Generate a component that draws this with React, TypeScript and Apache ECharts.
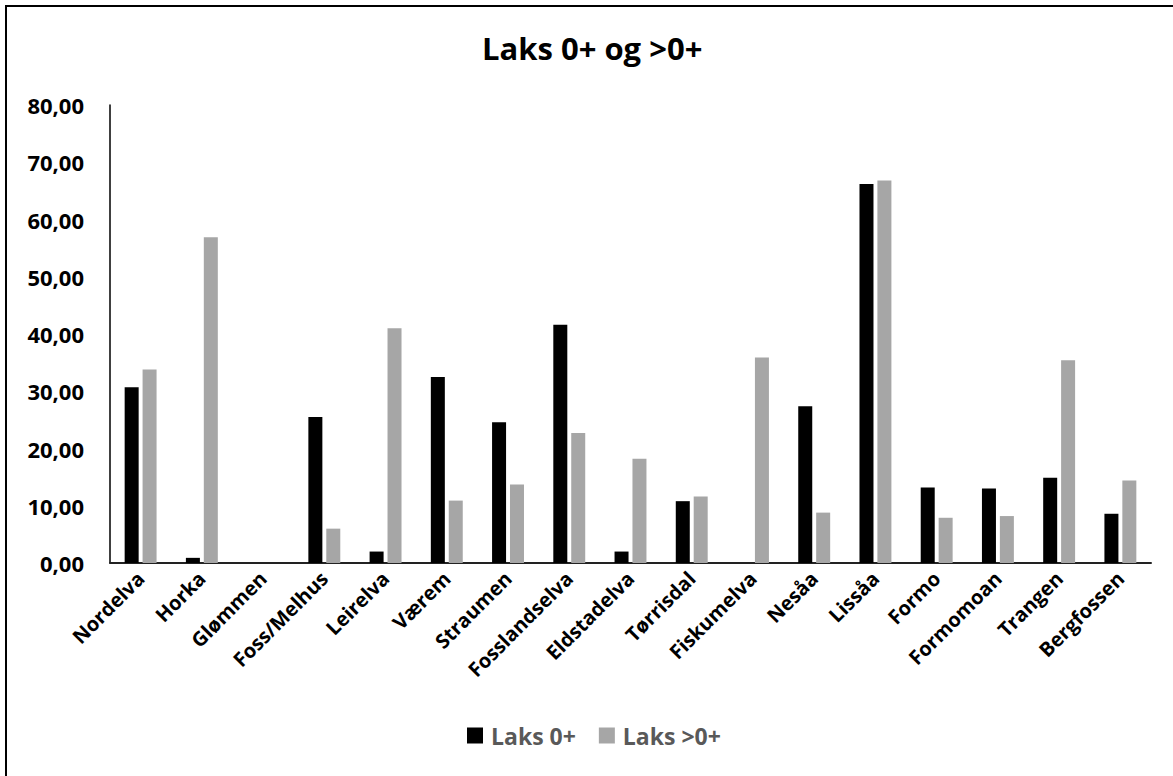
import React, { useEffect, useRef } from "react";
import * as echarts from "echarts";

// Sampling stations
const stations = [
  "Nordelva",
  "Horka",
  "Glømmen",
  "Foss/Melhus",
  "Leirelva",
  "Værem",
  "Straumen",
  "Fosslandselva",
  "Eldstadelva",
  "Tørrisdal",
  "Fiskumelva",
  "Nesåa",
  "Lissåa",
  "Formo",
  "Formomoan",
  "Trangen",
  "Bergfossen",
];

// Density of salmon fry (0+) per station
const laks0 = [30.7, 0.9, 0, 25.5, 2.0, 32.5, 24.6, 41.6, 2.0, 10.8, 0, 27.4, 66.2, 13.2, 13.0, 14.9, 8.6];

// Density of older salmon parr (>0+) per station
const laksOver0 = [33.8, 56.9, 0, 6.0, 41.0, 10.9, 13.7, 22.7, 18.2, 11.6, 35.9, 8.8, 66.8, 7.9, 8.2, 35.4, 14.4];

const seriesNames = ["Laks 0+", "Laks >0+"];
const seriesColors = ["#000000", "#a6a6a6"];

const FONT = "'Open Sans', sans-serif";

export default function App() {
  const ref = useRef<HTMLDivElement>(null);

  useEffect(() => {
    document.body.style.margin = "0";
    if (!ref.current) return;
    const chart = echarts.init(ref.current, null, { renderer: "svg" });
    chart.setOption({
      animation: false,
      backgroundColor: "#ffffff",
      title: {
        text: "Laks 0+ og >0+",
        left: 477,
        top: 27,
        textStyle: { fontFamily: FONT, fontWeight: "bold", fontSize: 31, color: "#000" },
      },
      legend: {
        bottom: 24,
        left: 462,
        itemWidth: 16,
        itemHeight: 16,
        itemGap: 23,
        icon: "rect",
        textStyle: {
          fontFamily: FONT,
          fontWeight: "bold",
          fontSize: 23,
          color: "#595959",
          padding: [0, 0, 0, 3],
        },
        data: seriesNames,
      },
      grid: { left: 110, right: 22, top: 105, bottom: 213, containLabel: false },
      xAxis: {
        type: "category",
        data: stations,
        axisLine: { lineStyle: { color: "#222", width: 2 } },
        axisTick: { show: false },
        axisLabel: {
          interval: 0,
          rotate: 45,
          margin: 12,
          fontFamily: FONT,
          fontWeight: "bold",
          fontSize: 20,
          color: "#000",
        },
      },
      yAxis: {
        type: "value",
        min: 0,
        max: 80,
        interval: 10,
        splitLine: { show: false },
        axisLine: { show: true, lineStyle: { color: "#000", width: 1.5 } },
        axisTick: { show: false },
        axisLabel: {
          margin: 26,
          fontFamily: FONT,
          fontWeight: "bold",
          fontSize: 22,
          color: "#000",
          formatter: (v: number) => v.toFixed(2).replace(".", ","),
        },
      },
      series: [
        {
          name: seriesNames[0],
          type: "bar",
          data: laks0,
          barWidth: 14,
          barGap: "28%",
          itemStyle: { color: seriesColors[0] },
        },
        {
          name: seriesNames[1],
          type: "bar",
          data: laksOver0,
          barWidth: 14,
          itemStyle: { color: seriesColors[1] },
        },
      ],
      graphic: [
        {
          type: "rect",
          silent: true,
          shape: { x: 6, y: 6, width: 1220, height: 820 },
          style: { fill: "none", stroke: "#000", lineWidth: 2 },
        },
      ],
    });
    return () => chart.dispose();
  }, []);

  return <div ref={ref} style={{ width: 1173, height: 776 }} />;
}
